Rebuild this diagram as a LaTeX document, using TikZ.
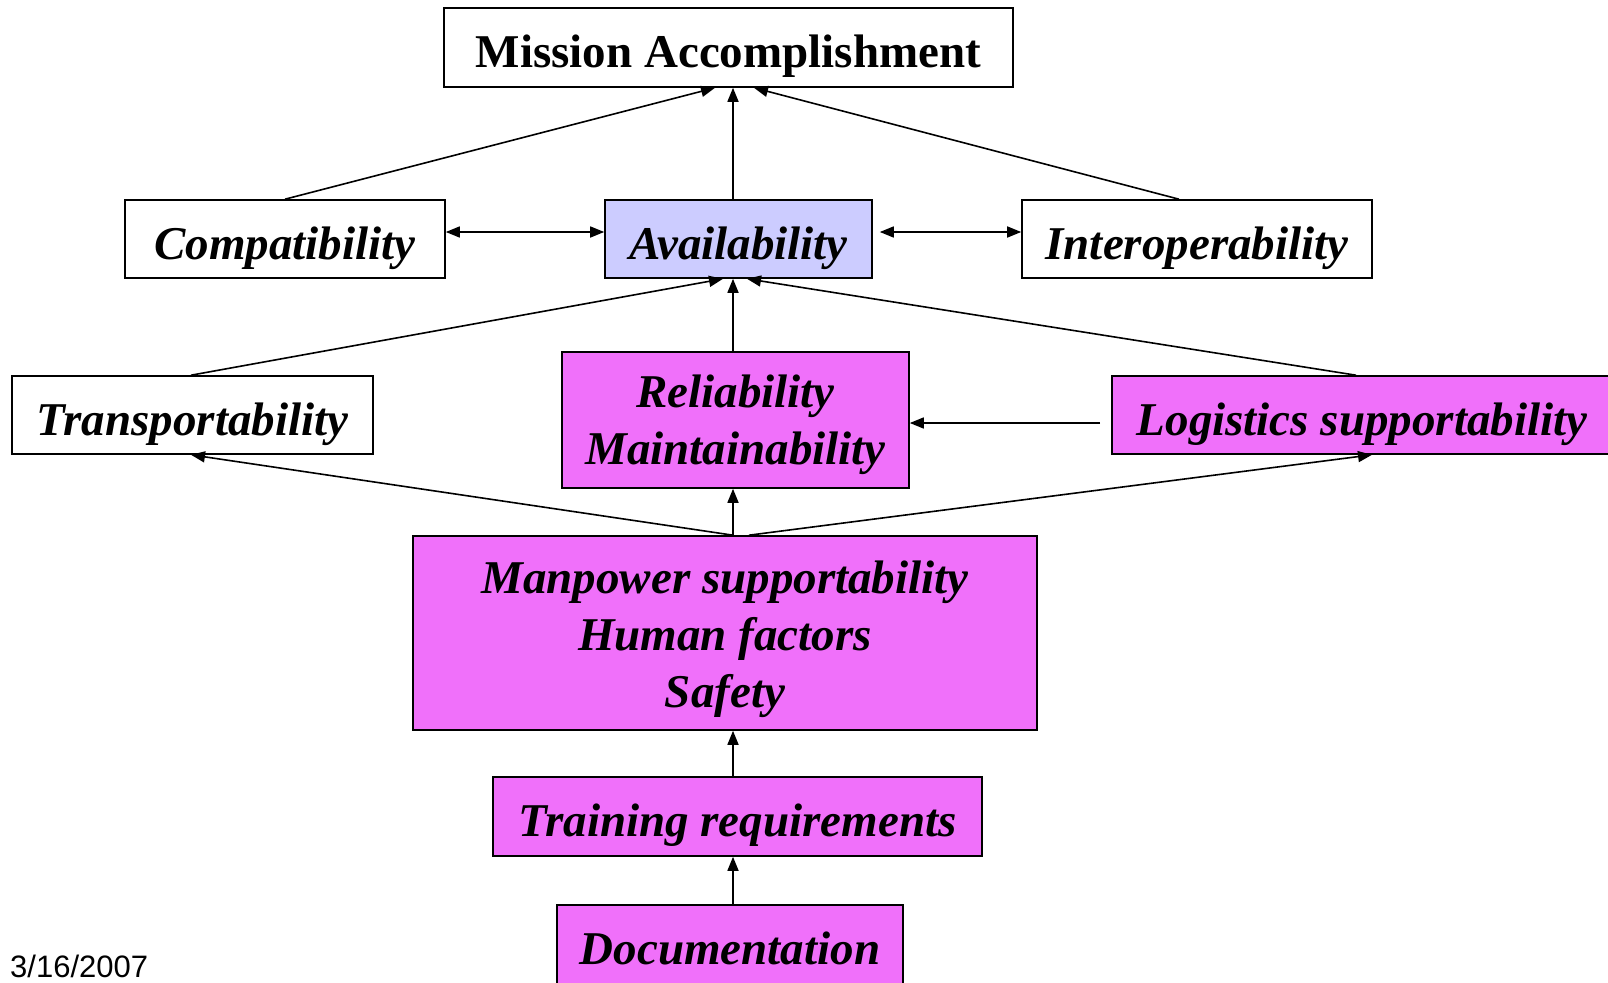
\documentclass[tikz,border=0pt]{standalone}
\usepackage{fontspec}
\setmainfont{Liberation Serif}
\newfontfamily\datefont{Liberation Sans}
\usetikzlibrary{arrows.meta}
\definecolor{magbox}{RGB}{240,112,250}
\definecolor{lavbox}{RGB}{204,204,255}
\tikzset{
  box/.style={draw=black, line width=1.6pt, inner sep=0pt, align=center,
    text height=40pt, text depth=0pt,
    font=\fontsize{47}{57}\selectfont\bfseries\itshape},
  magfill/.style={box, fill=magbox},
  arr/.style={line width=1.6pt, -{Triangle[length=14pt,width=11pt]}},
  darr/.style={line width=1.6pt, {Triangle[length=14pt,width=11pt]}-{Triangle[length=14pt,width=11pt]}}
}
\begin{document}
\begin{tikzpicture}[x=1pt,y=-1pt]
\useasboundingbox (0,0) rectangle (1608,982);
\clip (0,0) rectangle (1608,982);
\fill[white] (0,0) rectangle (1608,982);

\node[box, minimum width=569pt, minimum height=79pt,
  font=\fontsize{47}{57}\selectfont\bfseries] (mission) at (728.5,47.5) {Mission Accomplishment};
\node[box, minimum width=320pt, minimum height=78pt] (compat) at (285,239) {Compatibility};
\node[box, fill=lavbox, minimum width=267pt, minimum height=78pt] (avail) at (738.5,239) {Availability};
\node[box, minimum width=350pt, minimum height=78pt] (interop) at (1197,239) {Interoperability};
\node[box, minimum width=361pt, minimum height=78pt] (transp) at (192.5,415) {Transportability};
\node[magfill, minimum width=347pt, minimum height=136pt, text height=88pt] (relia) at (735.5,420) {Reliability\\Maintainability};
\node[magfill, minimum width=500pt, minimum height=78pt] (logist) at (1362,415) {Logistics supportability};
\node[magfill, minimum width=624pt, minimum height=194pt, text height=149pt] (manpower) at (725,633) {Manpower supportability\\Human factors\\Safety};
\node[magfill, minimum width=489pt, minimum height=79pt] (training) at (737.5,816.5) {Training requirements};
\node[magfill, minimum width=346pt, minimum height=79pt] (docu) at (730,944.5) {Documentation};

\node[anchor=base west, inner sep=0pt, font=\datefont\fontsize{31}{36}\selectfont] (date) at (10,977) {3/16/2007};

% to Mission
\draw[arr] (compat.north) -- ([xshift=-13.5pt]mission.south);
\draw[arr] ([xshift=-5.5pt]avail.north) -- ([xshift=4.5pt]mission.south);
\draw[arr] ([xshift=-18pt]interop.north) -- ([xshift=25.5pt]mission.south);
% horizontal double arrows
\draw[darr] ([yshift=7pt]compat.east) -- ([yshift=7pt]compat.east -| avail.west);
\draw[darr] ([xshift=7pt,yshift=7pt]avail.east) -- ([yshift=7pt]avail.east -| interop.west);
% to Availability
\draw[arr] ([xshift=-1.5pt]transp.north) -- ([xshift=-15.5pt]avail.south);
\draw[arr] ([xshift=-2.5pt]relia.north) -- ([xshift=-5.5pt]avail.south);
\draw[arr] ([xshift=-6pt]logist.north) -- ([xshift=8.5pt]avail.south);
% Logistics to Reliability
\draw[arr, shorten <=11pt] ([yshift=-8pt]logist.west) -- ([yshift=-8pt]logist.west -| relia.east);
% from Manpower
\draw[arr] ([xshift=8pt]manpower.north) -- ([xshift=-1.5pt]transp.south);
\draw[arr] ([xshift=8pt]manpower.north) -- ([xshift=-2.5pt]relia.south);
\draw[arr] ([xshift=24pt]manpower.north) -- ([xshift=10pt]logist.south);
% lower chain
\draw[arr] ([xshift=-4.5pt]training.north) -- ([xshift=8pt]manpower.south);
\draw[arr] ([xshift=3pt]docu.north) -- ([xshift=-4.5pt]training.south);
\end{tikzpicture}
\end{document}
